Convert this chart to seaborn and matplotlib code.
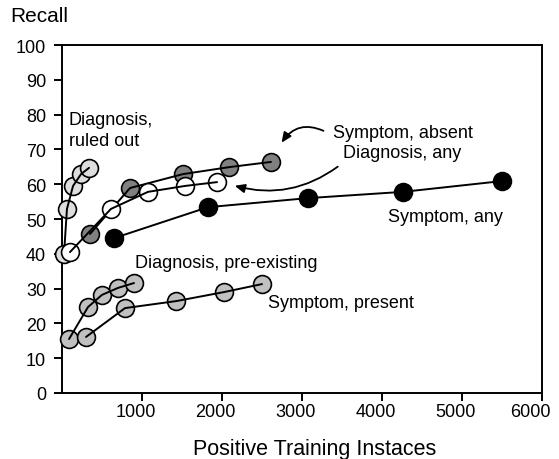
import matplotlib
matplotlib.use("Agg")
import matplotlib.pyplot as plt
import matplotlib.transforms as mtransforms
import seaborn as sns
import pandas as pd

sns.set_theme(style="white")
plt.rcParams['font.family'] = ['Liberation Sans', 'DejaVu Sans']
plt.rcParams['text.color'] = 'black'
plt.rcParams['axes.labelcolor'] = 'black'

# ---- data ----
ruled_out_x = [25, 62, 138, 238, 338]
ruled_out_y = [39.9, 52.9, 59.5, 62.9, 64.7]

diag_any_x = [100, 612, 1075, 1538, 1938]
diag_any_y = [40.5, 52.9, 57.8, 59.5, 60.6]

sym_absent_x = [350, 850, 1512, 2088, 2612]
sym_absent_y = [45.7, 58.9, 62.9, 64.9, 66.4]

sym_any_x = [650, 1825, 3075, 4262, 5500]
sym_any_y = [44.5, 53.4, 56.0, 57.8, 60.9]

pre_x = [88, 325, 500, 700, 900]
pre_y = [15.5, 24.7, 28.2, 30.2, 31.6]

present_x = [300, 788, 1425, 2025, 2500]
present_y = [16.1, 24.4, 26.4, 29.0, 31.3]

x_ticks = [1000, 2000, 3000, 4000, 5000, 6000]
y_ticks = [0, 10, 20, 30, 40, 50, 60, 70, 80, 90, 100]

series = [
    ("Diagnosis, ruled out", ruled_out_x, ruled_out_y, "#dedede"),
    ("Diagnosis, pre-existing", pre_x, pre_y, "#c0c0c0"),
    ("Symptom, present", present_x, present_y, "#c0c0c0"),
    ("Symptom, absent", sym_absent_x, sym_absent_y, "#808080"),
    ("Diagnosis, any", diag_any_x, diag_any_y, "#ffffff"),
    ("Symptom, any", sym_any_x, sym_any_y, "#000000"),
]

fig = plt.figure(figsize=(5.59, 4.60), dpi=100)
ax = fig.add_axes([62/559, 1-394/460, 480/559, 348/460])

for i, (name, xs, ys, fc) in enumerate(series):
    df = pd.DataFrame({"x": xs, "y": ys})
    sns.scatterplot(data=df, x="x", y="y", ax=ax, s=165, color=fc,
                    edgecolor="black", linewidth=1.2, zorder=2 + 2*i,
                    legend=False, clip_on=False)
    sns.lineplot(data=df, x="x", y="y", ax=ax, sort=False, color="black",
                 linewidth=1.4, zorder=3 + 2*i, legend=False, estimator=None,
                 clip_on=False)

ax.set_xlim(0, 6000)
ax.set_ylim(0, 100)
ax.set_xticks(x_ticks)
ax.set_yticks(y_ticks)
ax.tick_params(axis="both", direction="out", length=5.5, width=1.4, color="black",
               labelsize=13, labelcolor="black")
ax.tick_params(axis="x", bottom=True, pad=1.5)
ax.tick_params(axis="y", left=True, pad=6)
for sp in ax.spines.values():
    sp.set_color("black")
    sp.set_linewidth(1.4)
    sp.set_zorder(1)
ax.set_xlabel("")
ax.set_ylabel("")

# x tick labels sit slightly left of their ticks in the reference
for lab, v in zip(ax.get_xticklabels(), x_ticks):
    dx = -12 if v == x_ticks[-1] else -6.5
    off = mtransforms.ScaledTranslation(dx/100, 0, fig.dpi_scale_trans)
    lab.set_transform(lab.get_transform() + off)

fig.text(315/559, 1-450/460, "Positive Training Instaces", fontsize=15.5,
         color="black", va="center", ha="center")
fig.text(10/559, 1-17/460, "Recall", fontsize=15, color="black", va="center", ha="left")

def px(xp, yp):
    return ((xp - 62) / 480 * 6000, (394 - yp) / 348 * 100)

fs = 13
tk = dict(fontsize=fs, va="center", ha="left", color="black")
ax.text(*px(69, 120), "Diagnosis,", **tk)
ax.text(*px(69, 141), "ruled out", **tk)
ax.text(*px(333, 133), "Symptom, absent", **tk)
ax.text(*px(343, 153), "Diagnosis, any", **tk)
ax.text(*px(388, 217), "Symptom, any", **tk)
ax.text(*px(135, 263), "Diagnosis, pre-existing", **tk)
ax.text(*px(268, 303), "Symptom, present", **tk)

ax.annotate("", xy=px(280, 146), xytext=px(326, 133),
            arrowprops=dict(arrowstyle="-|>,head_length=0.5,head_width=0.22",
                            connectionstyle="arc3,rad=0.45", color="black", lw=1.3))
ax.annotate("", xy=px(232, 186), xytext=px(340, 166),
            arrowprops=dict(arrowstyle="-|>,head_length=0.5,head_width=0.22",
                            connectionstyle="arc3,rad=-0.25", color="black", lw=1.3))

fig.savefig("out.png", dpi=100)
